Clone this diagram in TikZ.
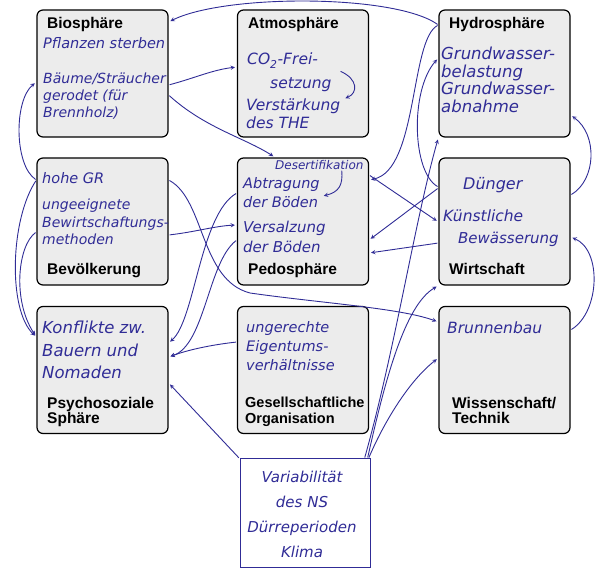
\documentclass[tikz,border=0pt]{standalone}
\usepackage{fontspec}
\setmainfont{Liberation Sans}
\newfontfamily\handfont{DejaVu Sans}
\usepackage{tikz}
\usetikzlibrary{positioning}

\definecolor{handblue}{RGB}{48,44,150}
\definecolor{boxgray}{RGB}{236,236,236}

\newcommand{\handsize}[2]{\handfont\itshape\fontsize{#1}{#2}\selectfont}

\begin{document}
\begin{tikzpicture}[x=1pt, y=-1pt]
    \tikzstyle{arrow} = [handblue, line width=0.9pt, ->, >=stealth, shorten >=2pt, shorten <=1pt]
    \tikzstyle{sphere} = [draw, rounded corners=6pt, line width=1.2pt, fill=boxgray,
                          minimum width=131pt, minimum height=127pt, inner sep=0pt]
    \tikzstyle{title} = [anchor=north west, inner sep=0pt, align=left,
                         font=\bfseries\fontsize{15.5}{15.5}\selectfont]
    \tikzstyle{hand} = [anchor=north west, inner sep=0pt, align=left, handblue,
                        font=\handsize{14.5}{18}]
    \useasboundingbox (0,0) rectangle (603,569);

    % Top row
    \node [sphere] (Bio) at (102.5,73.5) {};
    \node [title] (BioTitle) at (47,17) {Biosphäre};
    \node [hand] (Pflanzen) at (43,37) {Pflanzen sterben};
    \node [hand, font=\handsize{14}{17}] (Baeume) at (43,73) {Bäume/Sträucher\\gerodet (für\\Brennholz)};

    \node [sphere] (Atmo) at (303,73.5) {};
    \node [title] (AtmoTitle) at (248,17) {Atmosphäre};
    \node [hand, font=\handsize{15.5}{18}] (Co2) at (247,53) {CO\textsubscript{2}-Frei-};
    \node [hand, font=\handsize{15.5}{18}] (Setzung) at (270,77) {setzung};
    \node [hand, font=\handsize{15.5}{18}] (Verst) at (246,99) {Verstärkung\\des THE};

    \node [sphere] (Hydro) at (504.5,73.5) {};
    \node [title] (HydroTitle) at (449,17) {Hydrosphäre};
    \node [hand, font=\handsize{16.5}{17.5}] (Grundw) at (441,47) {Grundwasser-\\belastung\\Grundwasser-\\abnahme};

    % Middle row
    \node [sphere] (Bev) at (102.5,221.5) {};
    \node [hand] (GR) at (42,172) {hohe GR};
    \node [hand, font=\handsize{14}{17.5}] (Bewirt) at (42,199) {ungeeignete\\Bewirtschaftungs-\\methoden};
    \node [title] (BevTitle) at (47,263) {Bevölkerung};

    \node [sphere] (Pedo) at (303,221.5) {};
    \node [hand, font=\handsize{12}{13}] (Desert) at (275,160) {Desertifikation};
    \node [hand, font=\handsize{14.5}{19}] (Abtrag) at (243,177) {Abtragung\\der Böden};
    \node [hand, font=\handsize{15}{20}] (Versalz) at (243,221) {Versalzung\\der Böden};
    \node [title] (PedoTitle) at (248,263) {Pedosphäre};

    \node [sphere] (Wirt) at (504.5,221.5) {};
    \node [hand, font=\handsize{16}{18}] (Duenger) at (463,177) {Dünger};
    \node [hand, font=\handsize{15.5}{18}] (Kuenst) at (443,210) {Künstliche};
    \node [hand, font=\handsize{15}{18}] (Bewaess) at (458,232) {Bewässerung};
    \node [title] (WirtTitle) at (449,263) {Wirtschaft};

    % Bottom row
    \node [sphere] (Psy) at (102.5,370) {};
    \node [hand, font=\handsize{16.5}{22.5}] (Konfl) at (42,321) {Konflikte zw.\\Bauern und\\Nomaden};
    \node [title] (PsyTitle) at (47,397) {Psychosoziale\\Sphäre};

    \node [sphere] (Ges) at (303,370) {};
    \node [hand, font=\handsize{14.5}{19}] (Unger) at (246,321) {ungerechte\\Eigentums-\\verhältnisse};
    \node [title, font=\bfseries\fontsize{14.5}{15.5}\selectfont] (GesTitle) at (245,397) {Gesellschaftliche\\Organisation};

    \node [sphere] (Wiss) at (504.5,370) {};
    \node [hand, font=\handsize{15.5}{18}] (Brunnen) at (447,322) {Brunnenbau};
    \node [title] (WissTitle) at (452,397) {Wissenschaft/\\Technik};

    % Klima, drawn by hand
    \node [draw=handblue, line width=1pt, minimum width=130pt, minimum height=108pt, inner sep=0pt] (Klima) at (305,513) {};
    \node [hand, anchor=center, align=center, font=\handsize{15}{25}] (KlimaText) at (302,514) {Variabilität\\des NS\\Dürreperioden\\Klima};

    % small arrows inside the boxes
    \draw [arrow] ([xshift=8pt, yshift=6pt]Setzung.north east) .. controls (358,79) and (358,93) .. ([xshift=3pt]Verst.north east);
    \draw [arrow] ([xshift=-22pt]Desert.south east) .. controls (343,185) and (339,192) .. ([xshift=2pt, yshift=-4pt]Abtrag.east);

    % arrows along the top and the left margin
    \draw [arrow] ([yshift=48.5pt]Hydro.west) .. controls (395,-6) and (225,-6) .. ([yshift=51.5pt]Bio.east);
    \draw [arrow] ([yshift=-11.5pt]Bio.east) .. controls (195,78) and (212,70) .. ([yshift=6.5pt]Atmo.west);
    \draw [arrow] ([yshift=-21.5pt]Bio.east) .. controls (205,128) and (245,138) .. ([xshift=-28pt]Pedo.north);
    \draw [arrow] ([yshift=41.5pt]Bev.west) .. controls (14,165) and (14,100) .. ([yshift=-8.5pt]Bio.west);
    \draw [arrow] ([yshift=41.5pt]Bev.west) .. controls (10,220) and (8,310) .. ([yshift=33pt]Psy.west);
    \draw [arrow] ([yshift=-10.5pt]Bev.west) .. controls (18,245) and (12,300) .. ([yshift=33pt]Psy.west);

    % arrows between left and middle column
    \draw [arrow] ([yshift=41.5pt]Bev.east) .. controls (205,200) and (200,280) .. (250,293)
                  .. controls (320,303) and (400,308) .. ([yshift=48pt]Wiss.west);
    \draw [arrow] ([yshift=-13.5pt]Bev.east) .. controls (195,232) and (215,226) .. ([yshift=-3.5pt]Pedo.west);
    \draw [arrow] ([yshift=28.5pt]Pedo.west) .. controls (200,215) and (195,320) .. ([yshift=27pt]Psy.east);
    \draw [arrow] ([yshift=-18.5pt]Pedo.west) .. controls (208,262) and (205,345) .. ([yshift=13pt]Psy.east);
    \draw [arrow] ([yshift=28pt]Ges.west) .. controls (210,345) and (188,350) .. ([yshift=13pt]Psy.east);
    \draw [arrow] (Klima.north west) -- ([yshift=-13pt]Psy.east);

    % arrows between middle and right column
    \draw [arrow] ([yshift=48.5pt]Hydro.west) .. controls (410,40) and (418,170) .. ([yshift=41.5pt]Pedo.east);
    \draw [arrow] ([yshift=46.5pt]Pedo.east) -- ([yshift=-0.5pt]Wirt.west);
    \draw [arrow] ([yshift=33.5pt]Wirt.west) -- ([yshift=-18.5pt]Pedo.east);
    \draw [arrow] ([yshift=-21.5pt]Wirt.west) -- ([yshift=-31.5pt]Pedo.east);
    \draw [arrow] ([yshift=34.5pt]Wirt.west) .. controls (412,172) and (410,90) .. ([yshift=15.5pt]Hydro.west);
    \draw [arrow] ([xshift=-6pt]Klima.north east) .. controls (395,350) and (415,220) .. (Hydro.south west);
    \draw [arrow] ([xshift=-3pt]Klima.north east) .. controls (385,380) and (405,305) .. (Wirt.south west);
    \draw [arrow] ([xshift=-2pt]Klima.north east) .. controls (385,420) and (410,380) .. ([yshift=12pt]Wiss.west);

    % right margin
    \draw [arrow] ([yshift=40pt]Wiss.east) .. controls (600,312) and (602,250) .. ([yshift=-15.5pt]Wirt.east);
    \draw [arrow] ([yshift=26.5pt]Wirt.east) .. controls (596,180) and (598,135) .. ([yshift=-41.5pt]Hydro.east);
\end{tikzpicture}
\end{document}
